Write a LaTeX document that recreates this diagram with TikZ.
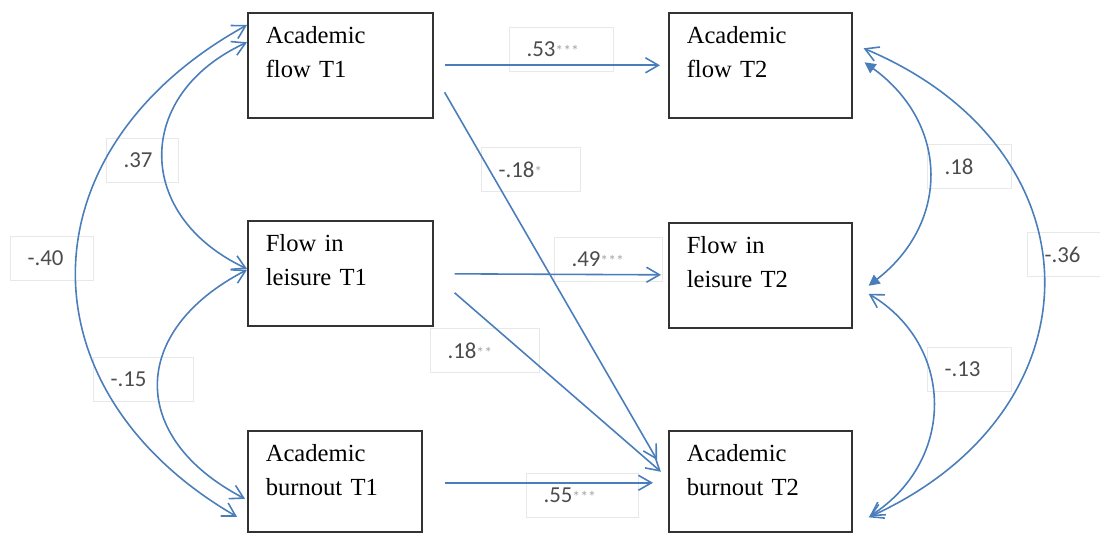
\documentclass[tikz,border=0pt]{standalone}
\usepackage{fontspec}
\setmainfont{Liberation Serif}[WordSpace=0.55]
\newfontfamily\labelfont{Carlito}
\usetikzlibrary{arrows.meta}
\definecolor{pathblue}{RGB}{74,126,187}
\newcommand{\sig}[1]{\textcolor{gray!70}{\small #1}}

\begin{document}
\begin{tikzpicture}[
        box/.style={rectangle, draw=black!80, line width=0.9pt, anchor=north
          west, align=left, inner xsep=0.36cm, inner ysep=0.2cm, text
          height=0.42cm, text depth=1.28cm, font=\fontsize{14pt}{19pt}\selectfont},
        coef/.style={rectangle, draw=gray!18, line width=0.6pt, anchor=north
          west, align=left, inner xsep=0.34cm, minimum height=0.88cm, text
          width=#1, text=black!70, font=\labelfont\fontsize{13pt}{15pt}\selectfont},
        line/.style={draw=pathblue, line width=0.9pt,
          -{Straight Barb[length=0.26cm, width=0.3cm]}},
        both/.style={draw=pathblue, line width=0.9pt,
          {Straight Barb[length=0.26cm, width=0.3cm]}-{Straight Barb[length=0.26cm, width=0.3cm]}},
        bothfill/.style={draw=pathblue, line width=0.9pt,
          {Triangle[length=0.22cm, width=0.22cm]}-{Triangle[length=0.22cm, width=0.22cm]}}
      ]
      \useasboundingbox (0,0) rectangle (22,-10.66);

      % T1 nodes
      \node [box, text width=2.98cm] (a1) at (4.94,-0.24) {Academic\\flow T1};
      \node [box, text width=2.98cm] (f1) at (4.94,-4.40) {Flow in\\leisure T1};
      \node [box, text width=2.76cm, text depth=1.20cm] (b1) at (4.94,-8.60)
      {Academic\\burnout T1};

      % T2 nodes
      \node [box, text width=2.94cm] (a2) at (13.36,-0.24) {Academic\\flow T2};
      \node [box, text width=2.94cm] (f2) at (13.36,-4.44) {Flow in\\leisure T2};
      \node [box, text width=2.94cm, text depth=1.20cm] (b2) at (13.36,-8.60)
      {Academic\\burnout T2};

      % Coefficients
      \node [coef=0.98cm] (c_a1b1) at (0.20,-4.72) {-.40};
      \node [coef=0.76cm] (c_a1f1) at (2.12,-2.76) {.37};
      \node [coef=1.32cm] (c_f1b1) at (1.86,-7.14) {-.15};
      \node [coef=1.40cm] (c_a1a2) at (10.18,-0.54) {.53\sig{***}};
      \node [coef=1.30cm] (c_a1b2) at (9.62,-2.94) {-.18\sig{*}};
      \node [coef=1.48cm] (c_f1f2) at (11.08,-4.74) {.49\sig{***}};
      \node [coef=1.50cm] (c_f1b2) at (8.60,-6.56) {.18\sig{**}};
      \node [coef=1.56cm] (c_b1b2) at (10.52,-9.46) {.55\sig{***}};
      \node [coef=1.00cm] (c_a2f2) at (18.54,-2.88) {.18};
      \node [coef=0.78cm] (c_a2b2) at (20.54,-4.64) {-.36};
      \node [coef=1.00cm] (c_f2b2) at (18.54,-6.94) {-.13};

      % Paths T1 to T2
      \path [line, shorten <=0.22cm, shorten >=0.16cm] (a1) -- (a2);
      \path [line, shorten <=0.42cm, shorten >=0.14cm] (f1) -- (f2);
      \path [line] ([shift={(0.44,-0.03)}]b1.east) -- ([shift={(-0.30,-0.03)}]b2.west);
      \path [line] ([shift={(0.22,-0.54)}]a1.east) -- ([shift={(-0.22,0.43)}]b2.west);
      \path [line] ([shift={(0.42,-0.39)}]f1.east) -- ([shift={(-0.14,0.19)}]b2.west);

      % Correlations at T1
      \path [both] ([yshift=-0.26cm]a1.north west)
      .. controls +(-4.52,-2.5) and +(-4.34,2.52) .. ([shift={(-0.2,-0.71)}]b1.west);
      \path [both] ([yshift=0.46cm]a1.west)
      .. controls +(-2.26,-1.04) and +(-2.26,1.06) .. ([yshift=0.09cm]f1.west);
      \path [both] ([yshift=0.07cm]f1.west)
      .. controls +(-2.36,-1.22) and +(-2.34,1.22) .. ([shift={(-0.04,-0.35)}]b1.west);

      % Correlations at T2
      \path [bothfill] ([shift={(0.24,0.06)}]a2.east)
      .. controls +(1.70,-1.24) and +(1.62,1.26) .. ([shift={(0.32,-0.21)}]f2.east);
      \path [both] ([shift={(0.32,-0.37)}]f2.east)
      .. controls +(1.74,-1.04) and +(1.72,1.10) .. ([shift={(0.34,-0.70)}]b2.east);
      \path [both] ([shift={(0.22,0.34)}]a2.east)
      .. controls +(4.80,-2.02) and +(4.70,2.12) .. ([shift={(0.32,-0.72)}]b2.east);

    \end{tikzpicture}
\end{document}
